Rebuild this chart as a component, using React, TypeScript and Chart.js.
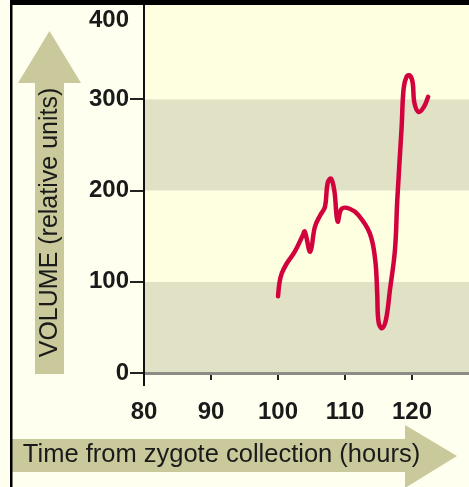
import React, { useEffect, useRef } from "react";
import { Chart, registerables } from "chart.js";

Chart.register(...registerables);

const timeHours = [
  100.0, 100.2, 100.55, 101.3, 102.5, 103.7, 104.0, 104.8, 105.5, 106.3, 107.0,
  107.4, 107.9, 108.4, 108.9, 109.5, 110.7, 112.0, 113.7, 114.5, 114.8, 115.0,
  115.5, 116.1, 116.7, 117.45, 117.8, 118.45, 118.75, 119.2, 119.7, 120.1, 120.35,
  121.0, 121.8, 122.4,
];
const volume = [
  84, 98, 109, 120, 133, 151, 155, 133, 160, 173, 182, 208, 213, 200, 166, 180,
  180, 173, 153, 124, 87, 56, 49, 58, 91, 135, 190, 270, 312, 325, 326, 318,
  296, 286, 292, 302.6,
];
const xTicks = [80, 90, 100, 110, 120];
const yTicks = [0, 100, 200, 300, 400];
const xTitle = "Time from zygote collection (hours)";
const yTitle = "VOLUME (relative units)";

const FONT = "'Liberation Sans', Arial, Helvetica, sans-serif";
const DARK_BAND = "#e1e1c5";
const LIGHT_BAND = "#fefee0";
const ARROW = "#c9c99c";
const TEXT = "#1a1a1a";

export default function App() {
  const ref = useRef<HTMLCanvasElement>(null);

  useEffect(() => {
    document.body.style.margin = "0";
    const canvas = ref.current!;

    const decor = {
      id: "decor",
      beforeDraw(chart: any) {
        const { ctx } = chart;
        const x = chart.scales.x;
        const y = chart.scales.y;
        const W = chart.width;
        const H = chart.height;
        ctx.save();
        ctx.fillStyle = "#fffff0";
        ctx.fillRect(0, 0, W, H);

        const left = x.getPixelForValue(80);
        for (let i = 0; i < yTicks.length - 1; i++) {
          const lo = yTicks[i];
          const hi = yTicks[i + 1];
          const top = i === yTicks.length - 2 ? 5 : y.getPixelForValue(hi);
          const bottom = y.getPixelForValue(lo);
          ctx.fillStyle = i % 2 === 0 ? DARK_BAND : LIGHT_BAND;
          ctx.fillRect(left, top, W - left, bottom - top);
        }

        // arrows
        const y0 = y.getPixelForValue(0);
        ctx.fillStyle = ARROW;
        ctx.fillRect(35, 83, 29, y0 - 83 + 1);
        ctx.beginPath();
        ctx.moveTo(18, 83);
        ctx.lineTo(49.5, 31);
        ctx.lineTo(81, 83);
        ctx.closePath();
        ctx.fill();

        ctx.fillRect(12, 439, 394, 33);
        ctx.beginPath();
        ctx.moveTo(405, 425);
        ctx.lineTo(457, 456);
        ctx.lineTo(405, 488);
        ctx.closePath();
        ctx.fill();

        // titles
        ctx.fillStyle = TEXT;
        ctx.textBaseline = "alphabetic";
        ctx.textAlign = "center";
        ctx.font = `25.5px ${FONT}`;
        ctx.fillText(xTitle, 221.5, 462);

        ctx.font = `25px ${FONT}`;
        ctx.save();
        ctx.translate(57, 222.5);
        ctx.rotate(-Math.PI / 2);
        ctx.fillText(yTitle, 0, 0);
        ctx.restore();

        // frame
        ctx.fillStyle = "#000";
        ctx.fillRect(10, 0, W - 10, 5);
        ctx.fillRect(10, 0, 2.5, H);
        ctx.restore();
      },
      afterDraw(chart: any) {
        const { ctx } = chart;
        const x = chart.scales.x;
        const y = chart.scales.y;
        const left = Math.round(x.getPixelForValue(80));
        ctx.save();
        ctx.strokeStyle = "#111";
        ctx.lineWidth = 2;
        ctx.beginPath();
        ctx.moveTo(left, 5);
        ctx.lineTo(left, y.getPixelForValue(0) + 13);
        ctx.stroke();
        ctx.restore();
      },
    };

    const chart = new Chart(canvas, {
      type: "line",
      data: {
        datasets: [
          {
            data: timeHours.map((t, i) => ({ x: t, y: volume[i] })),
            borderColor: "#d2023c",
            borderWidth: 4.5,
            borderCapStyle: "round",
            borderJoinStyle: "round",
            pointRadius: 0,
            tension: 0.4,
            fill: false,
          },
        ],
      },
      options: {
        responsive: false,
        animation: false,
        devicePixelRatio: 1,
        layout: { padding: { top: 8, right: 0, left: 0, bottom: 0 } },
        plugins: {
          legend: { display: false },
          tooltip: { enabled: false },
          title: { display: false },
        },
        scales: {
          x: {
            type: "linear",
            min: 80,
            max: 128.5,
            afterBuildTicks: (s: any) => {
              s.ticks = xTicks.map((v) => ({ value: v }));
            },
            afterFit: (s: any) => {
              s.height = 114;
              s.paddingLeft = 0;
              s.paddingRight = 0;
            },
            grid: {
              drawOnChartArea: false,
              drawTicks: true,
              tickLength: 7,
              tickColor: "#222",
              lineWidth: 2,
            },
            border: { display: true, color: "#8c8c84", width: 3 },
            ticks: {
              font: { family: FONT, size: 24, weight: "bold" },
              color: TEXT,
              padding: 18,
              maxRotation: 0,
              autoSkip: false,
            },
          },
          y: {
            type: "linear",
            min: 0,
            max: 400,
            afterBuildTicks: (s: any) => {
              s.ticks = yTicks.map((v) => ({ value: v }));
            },
            afterFit: (s: any) => {
              s.width = 144;
              s.paddingTop = 0;
              s.paddingBottom = 0;
            },
            grid: {
              drawOnChartArea: false,
              drawTicks: true,
              tickLength: 14,
              tickColor: (c: any) =>
                c.tick && c.tick.value === yTicks[yTicks.length - 1] ? "rgba(0,0,0,0)" : "#222",
              lineWidth: 2,
            },
            border: { display: false },
            ticks: {
              font: { family: FONT, size: 24, weight: "bold", lineHeight: 1.0 },
              color: TEXT,
              padding: 1,
              autoSkip: false,
              callback: (v: any) => (v === yTicks[yTicks.length - 1] ? ["", String(v)] : String(v)),
            },
          },
        },
      },
      plugins: [decor],
    } as any);

    return () => chart.destroy();
  }, []);

  return (
    <div style={{ width: 469, height: 487 }}>
      <canvas ref={ref} width={469} height={487} style={{ display: "block" }} />
    </div>
  );
}
